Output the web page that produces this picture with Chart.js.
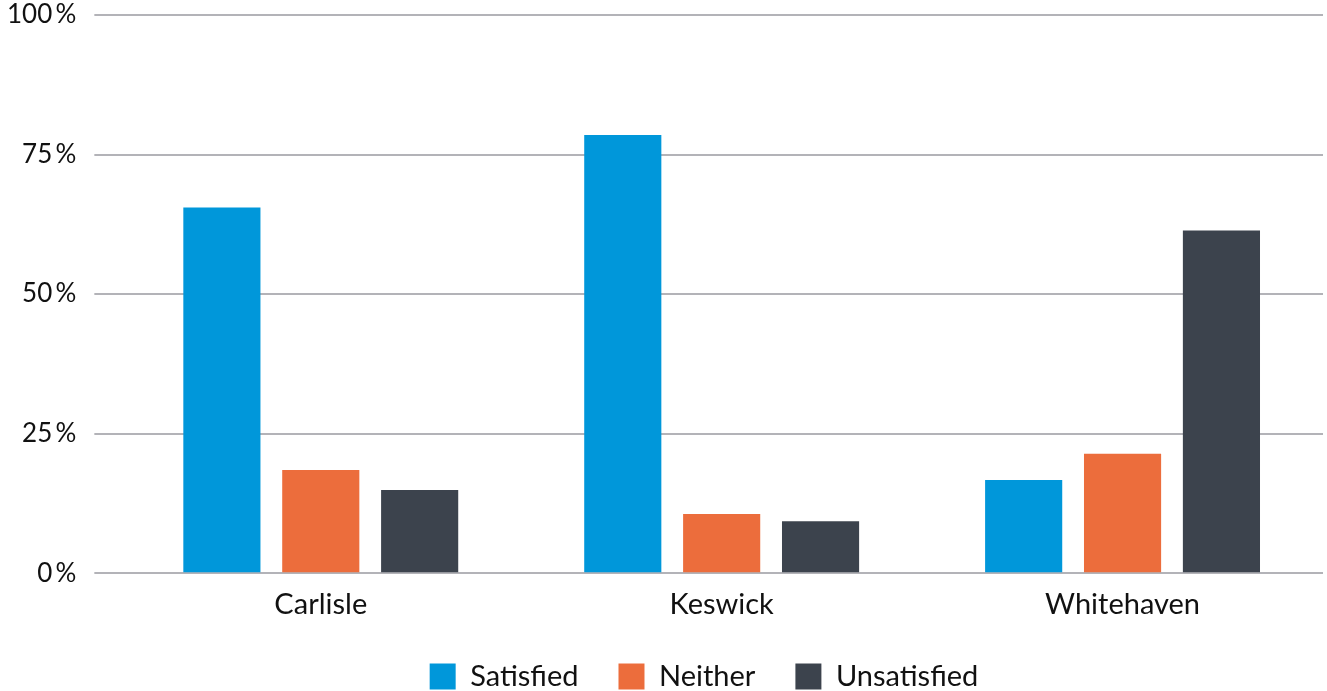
<!DOCTYPE html>
<html>
<head>
<meta charset="utf-8">
<script src="https://cdn.jsdelivr.net/npm/chart.js@4/dist/chart.umd.min.js"></script>
<style>
  html, body { margin: 0; padding: 0; background: #ffffff; }
  #wrap { width: 1327px; height: 691px; position: relative; }
</style>
</head>
<body>
<div id="wrap"><canvas id="c" width="1327" height="691"></canvas></div>
<script>
const categories = ['Carlisle', 'Keswick', 'Whitehaven'];
const satisfied = [65.5, 78.5, 16.7];
const neither = [18.5, 10.6, 21.4];
const unsatisfied = [14.9, 9.3, 61.4];
const yTicks = [0, 25, 50, 75, 100];

const FONT = 'Lato, "Noto Sans", sans-serif';
const FS = 29;

const legendShift = {
  id: 'legendShift',
  afterLayout(chart) {
    const lg = chart.legend;
    if (lg) { lg.left += 48; lg.right += 48; }
  }
};

new Chart(document.getElementById('c'), {
  type: 'bar',
  data: {
    labels: categories,
    datasets: [
      { label: 'Satisfied', data: satisfied, backgroundColor: '#0097DA' },
      { label: 'Neither', data: neither, backgroundColor: '#EC6D3C' },
      { label: 'Unsatisfied', data: unsatisfied, backgroundColor: '#3C434D' }
    ]
  },
  plugins: [legendShift],
  options: {
    responsive: false,
    animation: false,
    devicePixelRatio: 1,
    layout: { padding: { left: -11, right: 4, top: 15, bottom: -10 } },
    datasets: { bar: { barPercentage: 0.78, categoryPercentage: 0.74 } },
    plugins: {
      legend: {
        position: 'bottom',
        labels: {
          font: { family: FONT, size: FS },
          color: '#111111',
          boxWidth: 26,
          boxHeight: 26,
          padding: 40
        }
      },
      tooltip: { enabled: false }
    },
    scales: {
      x: {
        grid: { display: false },
        border: { display: false },
        ticks: { font: { family: FONT, size: FS }, color: '#111111', padding: 6 },
        afterFit: (s) => { s.height -= 6; }
      },
      y: {
        min: 0,
        max: 100,
        afterBuildTicks: (axis) => { axis.ticks = yTicks.map(v => ({ value: v })); },
        afterFit: (s) => { s.paddingTop = 0; s.paddingBottom = 0; },
        grid: { color: '#b3b3b8', lineWidth: 2, tickLength: 26 },
        border: { display: false },
        ticks: {
          font: { family: FONT, size: 26, lineHeight: 0.2 },
          color: '#111111',
          padding: 18,
          callback: (v) => v + '\u2009%'
        }
      }
    }
  }
});
</script>
</body>
</html>
